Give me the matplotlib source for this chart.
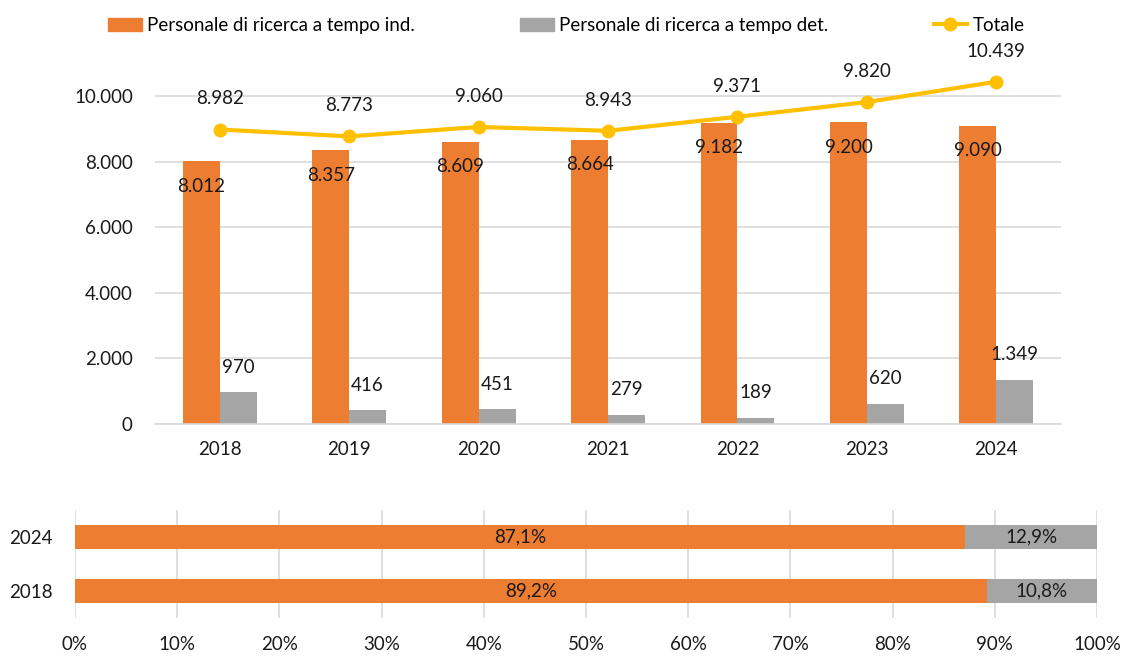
import numpy as np
import matplotlib.pyplot as plt
from matplotlib.patches import Patch
from matplotlib.lines import Line2D

plt.rcParams['font.family'] = ['Lato', 'DejaVu Sans']

# Data.
years = ["2018", "2019", "2020", "2021", "2022", "2023", "2024"]
tempo_ind = [8012, 8357, 8609, 8664, 9182, 9200, 9090]
tempo_det = [970, 416, 451, 279, 189, 620, 1349]
totale = [8982, 8773, 9060, 8943, 9371, 9820, 10439]

share_years = ["2018", "2024"]
share_ind = [89.2, 87.1]
share_det = [10.8, 12.9]

ORANGE = "#ED7D31"
GREY = "#A5A5A5"
YELLOW = "#FFC000"
GRID = "#D9D9D9"
FS = 13.5

def fmt(v):
    return "{:,}".format(v).replace(",", ".")

fig = plt.figure(figsize=(11.26, 6.57), dpi=100)

# Top chart: bars + line
ax = fig.add_axes([0.1377, 0.3546, 0.8046, 0.534])
x = np.arange(len(years))
w = 0.285
ax.bar(x - w/2, tempo_ind, w, color=ORANGE, zorder=2)
ax.bar(x + w/2, tempo_det, w, color=GREY, zorder=2)
ax.plot(x, totale, color=YELLOW, lw=3, marker="o", ms=9, zorder=3)

for i in range(len(years)):
    ax.annotate(fmt(tempo_ind[i]), (x[i] - w/2, tempo_ind[i]), xytext=(0, -18), textcoords="offset points",
                ha="center", va="center", fontsize=FS, color="#1a1a1a")
    ax.annotate(fmt(tempo_det[i]), (x[i] + w/2, tempo_det[i]), xytext=(0, 18), textcoords="offset points",
                ha="center", va="center", fontsize=FS, color="#1a1a1a")
    ax.annotate(fmt(totale[i]), (x[i], totale[i]), xytext=(0, 22), textcoords="offset points",
                ha="center", va="center", fontsize=FS, color="#1a1a1a")

ax.set_xlim(-0.5, len(years) - 0.5)
ax.set_ylim(0, 10700)
ax.set_yticks(range(0, 10001, 2000))
ax.set_yticklabels([fmt(v) for v in range(0, 10001, 2000)])
ax.set_xticks(x)
ax.set_xticklabels(years)
ax.yaxis.grid(True, color=GRID, lw=1.2, zorder=0)
ax.tick_params(length=0, labelsize=FS, colors="#1a1a1a")
ax.tick_params(axis="y", pad=16)
ax.tick_params(axis="x", pad=12)
for s in ["top", "right", "left"]:
    ax.spines[s].set_visible(False)
ax.spines["bottom"].set_color(GRID)
ax.spines["bottom"].set_linewidth(1.2)

handles = [Patch(color=ORANGE), Patch(color=GREY),
           Line2D([0], [0], color=YELLOW, lw=3, marker="o", ms=9)]
labels = ["Personale di ricerca a tempo ind.", "Personale di ricerca a tempo det.", "Totale"]
fig.legend(handles, labels, loc="upper center", bbox_to_anchor=(0.503, 1.0), ncol=3, frameon=False,
           fontsize=FS, handlelength=1.8, handletextpad=0.3, columnspacing=5.6)

# Bottom chart: 100% stacked horizontal bars
ax2 = fig.add_axes([0.0666, 0.0594, 0.9076, 0.1644])
y = np.arange(len(share_years))
ax2.barh(y, share_ind, 0.43, color=ORANGE, zorder=2)
ax2.barh(y, share_det, 0.43, left=share_ind, color=GREY, zorder=2)
for i in range(len(share_years)):
    ax2.text(share_ind[i] / 2, y[i], ("%.1f%%" % share_ind[i]).replace(".", ","),
             ha="center", va="center", fontsize=FS, color="#1a1a1a", zorder=3)
    ax2.text(share_ind[i] + share_det[i] / 2, y[i], ("%.1f%%" % share_det[i]).replace(".", ","),
             ha="center", va="center", fontsize=FS, color="#1a1a1a", zorder=3)
ax2.set_xlim(0, 100)
ax2.set_ylim(-0.5, 1.5)
ax2.set_xticks(range(0, 101, 10))
ax2.set_xticklabels(["%d%%" % v for v in range(0, 101, 10)])
ax2.set_yticks(y)
ax2.set_yticklabels(share_years)
ax2.xaxis.grid(True, color=GRID, lw=1.2, zorder=0)
ax2.tick_params(length=0, labelsize=FS, colors="#1a1a1a")
ax2.tick_params(axis="x", pad=13)
ax2.tick_params(axis="y", pad=16)
for s in ["top", "right", "left", "bottom"]:
    ax2.spines[s].set_visible(False)

fig.savefig("out.png", dpi=100)
